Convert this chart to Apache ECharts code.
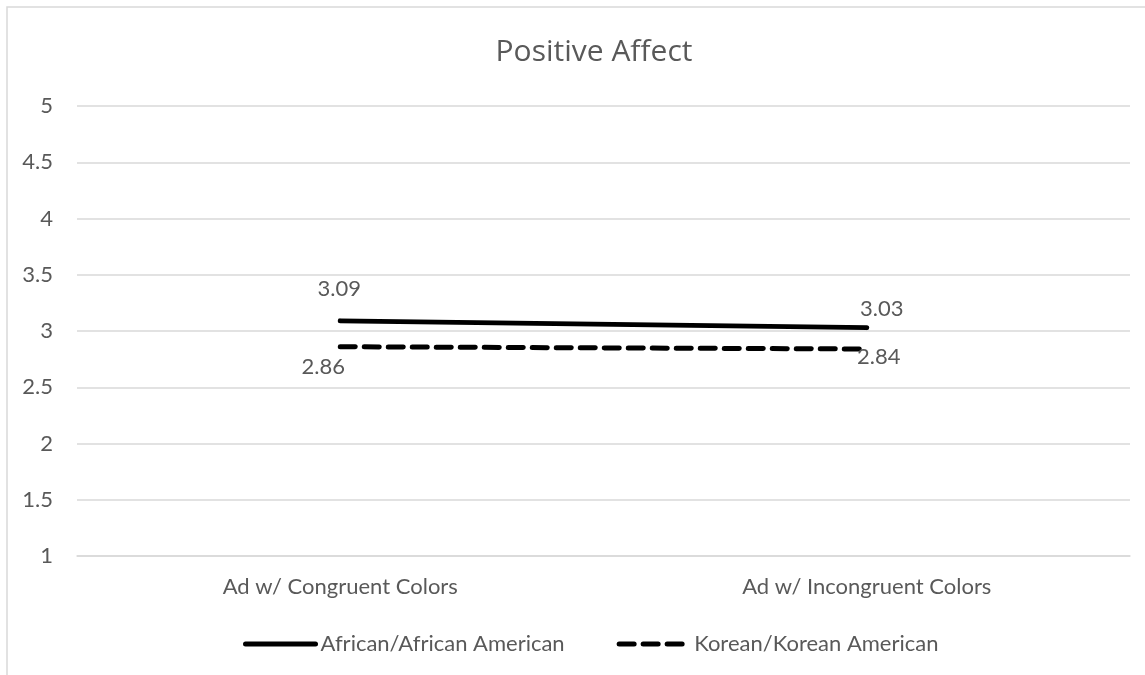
<!DOCTYPE html>
<html>
<head>
<meta charset="utf-8">
<style>
  html, body { margin: 0; padding: 0; background: #ffffff; }
  #chart { width: 1145px; height: 675px; }
</style>
<script src="https://cdn.jsdelivr.net/npm/echarts@6/dist/echarts.min.js"></script>
</head>
<body>
<div id="chart"></div>
<script>
const title = 'Positive Affect';
const categories = ['Ad w/ Congruent Colors', 'Ad w/ Incongruent Colors'];
const seriesNames = ['African/African American', 'Korean/Korean American'];
const africanValues = [3.09, 3.03];
const koreanValues = [2.86, 2.84];
const yTickLabels = ['1', '1.5', '2', '2.5', '3', '3.5', '4', '4.5', '5'];

const FONT = 'Lato, "Open Sans", sans-serif';
const TXT = '#595959';

// label offsets (style only)
const africanLabelOffsets = [[-1, -32], [15, -19]];
const koreanLabelOffsets = [[-17, 20], [12, 8]];

function buildData(values, offsets) {
  return values.map((v, i) => ({
    value: v,
    label: { offset: offsets[i] }
  }));
}

const yMin = parseFloat(yTickLabels[0]);
const yMax = parseFloat(yTickLabels[yTickLabels.length - 1]);
const yInterval = parseFloat(yTickLabels[1]) - yMin;

const chart = echarts.init(document.getElementById('chart'), null, { renderer: 'canvas' });

const labelStyle = {
  show: true,
  position: 'inside',
  color: TXT,
  fontFamily: FONT,
  fontSize: 22,
  formatter: p => p.value.toFixed(2)
};

chart.setOption({
  backgroundColor: '#ffffff',
  animation: false,
  title: {
    text: title,
    left: 589,
    textAlign: 'center',
    top: 32,
    textStyle: { color: TXT, fontFamily: '"Open Sans", Lato, sans-serif', fontSize: 30, fontWeight: 'normal' }
  },
  graphic: [{
    type: 'rect',
    shape: { x: 7, y: 7, width: 1200, height: 700 },
    style: { fill: 'none', stroke: '#d9d9d9', lineWidth: 1.5 },
    silent: true,
    z: -1
  }],
  grid: { left: 77, right: 15, top: 106, bottom: 119, containLabel: false },
  legend: {
    left: 238,
    top: 628,
    itemWidth: 70,
    itemHeight: 14,
    itemGap: 52,
    lineStyle: { width: 5, cap: 'round' },
    textStyle: { color: TXT, fontFamily: FONT, fontSize: 22, padding: [0, 0, 0, 0] },
    data: seriesNames
  },
  xAxis: {
    type: 'category',
    data: categories,
    boundaryGap: true,
    axisLine: { show: true, lineStyle: { color: '#d9d9d9', width: 1.5 } },
    axisTick: { show: false },
    axisLabel: { color: TXT, fontFamily: FONT, fontSize: 22, margin: 20 },
    splitLine: { show: false }
  },
  yAxis: {
    type: 'value',
    min: yMin,
    max: yMax,
    interval: yInterval,
    axisLine: { show: false },
    axisTick: { show: false },
    axisLabel: {
      color: TXT, fontFamily: FONT, fontSize: 22, margin: 24,
      formatter: v => yTickLabels.find(t => Math.abs(parseFloat(t) - v) < 1e-9) || ''
    },
    splitLine: { show: true, lineStyle: { color: '#d9d9d9', width: 1.5 } }
  },
  series: [
    {
      name: seriesNames[0],
      type: 'line',
      data: buildData(africanValues, africanLabelOffsets),
      symbol: 'circle',
      symbolSize: 1,
      itemStyle: { color: 'rgba(0,0,0,0)' },
      lineStyle: { color: '#000000', width: 5, cap: 'round' },
      label: labelStyle,
      z: 3
    },
    {
      name: seriesNames[1],
      type: 'line',
      data: buildData(koreanValues, koreanLabelOffsets),
      symbol: 'circle',
      symbolSize: 1,
      itemStyle: { color: 'rgba(0,0,0,0)' },
      lineStyle: { color: '#000000', width: 5, type: [15, 9], cap: 'round' },
      label: labelStyle,
      z: 3
    }
  ]
});
</script>
</body>
</html>
